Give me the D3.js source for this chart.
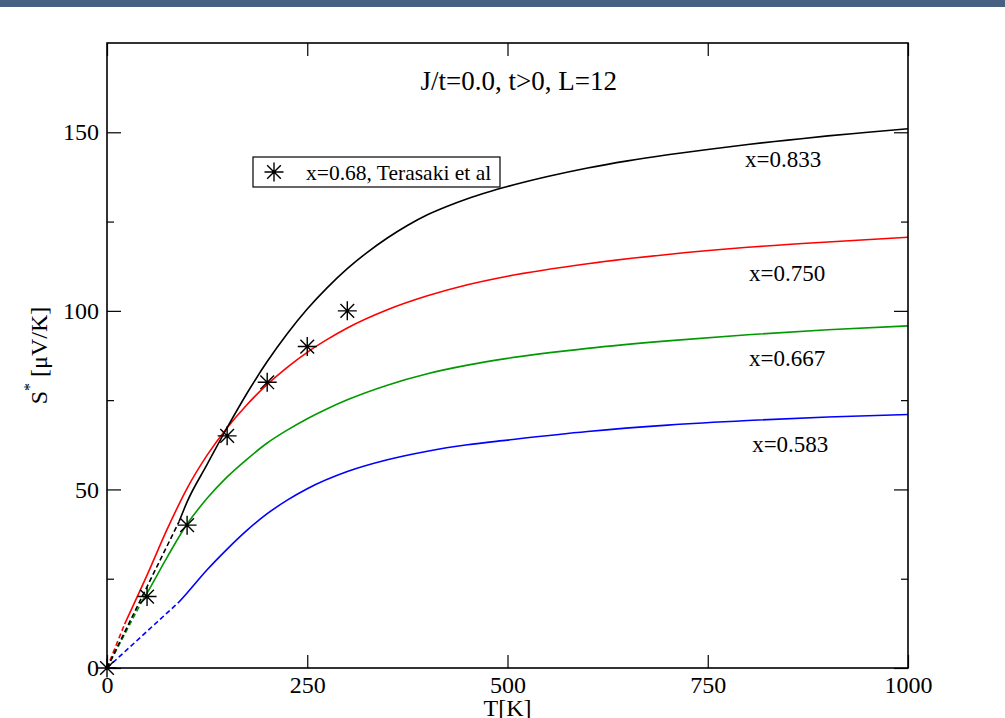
<!DOCTYPE html>
<html><head><meta charset="utf-8">
<script src="https://cdn.jsdelivr.net/npm/d3@7"></script>
<style>
body{margin:0;background:#fff;}
svg{display:block;font-family:"Liberation Serif","Times New Roman",serif;}
</style>
</head><body>
<svg id="chart" width="1005" height="718"></svg>
<script>
// ---------------- data ----------------
const xTicks = [0, 250, 500, 750, 1000];
const yTicks = [0, 50, 100, 150];
const yMinorTicks = [25, 75, 125];

const seriesLabels = ["x=0.833", "x=0.750", "x=0.667", "x=0.583"];
const seriesColors = ["#000000", "#ff0000", "#009900", "#0000ff"];

// low-temperature (dashed) parts
const blackDashT = [0, 90];
const blackDashS = [0, 41];
const redDashT = [0, 22];
const redDashS = [0, 12.3];
const greenDashT = [0, 42];
const greenDashS = [0, 18];
const blueDashT = [0, 90];
const blueDashS = [0, 18.5];

// solid parts
const blackT = [90, 100, 125, 150, 175, 200, 225, 250, 275, 300, 325, 350, 375, 400, 425, 450, 475, 500, 550, 600, 650, 700, 750, 800, 850, 900, 950, 1000];
const blackS = [41, 46.5, 57, 67.3, 77, 85.8, 93.6, 100.5, 106.5, 111.8, 116.4, 120.4, 123.9, 126.9, 129.3, 131.4, 133.2, 134.8, 137.6, 140, 142, 143.7, 145.2, 146.6, 147.8, 149, 150, 151];
const redT = [22, 50, 75, 100, 125, 150, 175, 200, 225, 250, 275, 300, 350, 400, 450, 500, 600, 700, 800, 900, 1000];
const redS = [12.3, 26, 38.8, 50.3, 59.6, 67.3, 73.8, 79.4, 84.2, 88.4, 92, 95.2, 100.3, 104.2, 107.3, 109.7, 113.2, 115.8, 117.8, 119.3, 120.6];
const greenT = [42, 50, 75, 100, 125, 150, 175, 200, 225, 250, 275, 300, 350, 400, 450, 500, 600, 700, 800, 900, 1000];
const greenS = [18, 21, 31, 40.3, 47.5, 53.5, 58.5, 63, 66.6, 69.8, 72.6, 75.1, 79.2, 82.4, 84.8, 86.7, 89.5, 91.6, 93.3, 94.7, 95.8];
const blueT = [90, 100, 125, 150, 175, 200, 225, 250, 300, 350, 400, 450, 500, 600, 700, 800, 900, 1000];
const blueS = [18.5, 21, 27.5, 33.3, 38.6, 43.2, 47, 50.2, 55, 58.3, 60.7, 62.5, 63.8, 66.2, 68, 69.3, 70.3, 71];

// experiment (Terasaki et al, x=0.68)
const expT = [0, 50, 100, 150, 200, 250, 300];
const expS = [0, 20, 40, 65, 80, 90, 100];
const expLabel = "x=0.68, Terasaki et al";

// curve label anchors (data coords)
const labelT = [844, 849, 849, 853];
const labelS = [140.2, 108.4, 84.6, 60.4];

const titleText = "J/t=0.0, t>0, L=12";

// ---------------- drawing ----------------
const svg = d3.select("#chart");
const W = 1005, H = 718;
const L = 107, R = 908, T = 43, B = 668;

svg.append("rect").attr("x", 0).attr("y", 0).attr("width", W).attr("height", H).attr("fill", "#fff");
svg.append("rect").attr("x", 0).attr("y", 0).attr("width", W).attr("height", 7).attr("fill", "#466082");

const x = d3.scaleLinear().domain([0, 1000]).range([L, R]);
const y = d3.scaleLinear().domain([0, 175]).range([B, T]);

const zip = (a, b) => a.map((v, i) => [v, b[i]]);
const line = d3.line().x(d => x(d[0])).y(d => y(d[1])).curve(d3.curveMonotoneX);

const dashSets = [zip(blackDashT, blackDashS), zip(redDashT, redDashS), zip(greenDashT, greenDashS), zip(blueDashT, blueDashS)];
const solidSets = [zip(blackT, blackS), zip(redT, redS), zip(greenT, greenS), zip(blueT, blueS)];

const gLines = svg.append("g");
[3, 2, 1, 0].forEach(i => {
  gLines.append("path").attr("d", line(dashSets[i])).attr("fill", "none")
    .attr("stroke", seriesColors[i]).attr("stroke-width", 1.6).attr("stroke-dasharray", "5,3");
  gLines.append("path").attr("d", line(solidSets[i])).attr("fill", "none")
    .attr("stroke", seriesColors[i]).attr("stroke-width", 1.6);
});

// star symbol
function star(g, cx, cy, r) {
  const d = r * 0.72;
  const p = `M${cx - r},${cy}L${cx + r},${cy}M${cx},${cy - r}L${cx},${cy + r}` +
            `M${cx - d},${cy - d}L${cx + d},${cy + d}M${cx - d},${cy + d}L${cx + d},${cy - d}`;
  g.append("path").attr("d", p).attr("stroke", "#000").attr("stroke-width", 1.4).attr("fill", "none");
}
const gPts = svg.append("g");
zip(expT, expS).forEach(d => star(gPts, x(d[0]), y(d[1]), 9.5));

// axes (inward ticks)
function styleAxis(g) {
  g.select(".domain").remove();
  g.selectAll(".tick line").attr("stroke", "#000").attr("stroke-width", 1.2);
  g.selectAll(".tick text").attr("font-family", "'Liberation Serif', serif").attr("font-size", 24).attr("fill", "#000");
}
svg.append("g").attr("transform", `translate(0,${B})`)
  .call(d3.axisBottom(x).tickValues(xTicks).tickSizeInner(-13).tickSizeOuter(0).tickPadding(8).tickFormat(d3.format("d")))
  .call(styleAxis);
svg.append("g").attr("transform", `translate(0,${T})`)
  .call(d3.axisTop(x).tickValues(xTicks).tickSizeInner(-13).tickSizeOuter(0).tickFormat(""))
  .call(styleAxis);
svg.append("g").attr("transform", `translate(${L},0)`)
  .call(d3.axisLeft(y).tickValues(yTicks).tickSizeInner(-14).tickSizeOuter(0).tickPadding(8).tickFormat(d3.format("d")))
  .call(styleAxis);
svg.append("g").attr("transform", `translate(${L},0)`)
  .call(d3.axisLeft(y).tickValues(yMinorTicks).tickSizeInner(-7).tickSizeOuter(0).tickFormat(""))
  .call(styleAxis);
svg.append("g").attr("transform", `translate(${R},0)`)
  .call(d3.axisRight(y).tickValues(yTicks).tickSizeInner(-14).tickSizeOuter(0).tickFormat(""))
  .call(styleAxis);
svg.append("g").attr("transform", `translate(${R},0)`)
  .call(d3.axisRight(y).tickValues(yMinorTicks).tickSizeInner(-7).tickSizeOuter(0).tickFormat(""))
  .call(styleAxis);

// frame
svg.append("rect").attr("x", L).attr("y", T).attr("width", R - L).attr("height", B - T)
  .attr("fill", "none").attr("stroke", "#000").attr("stroke-width", 1.6);

// axis titles
svg.append("text").attr("x", (L + R) / 2).attr("y", 716).attr("text-anchor", "middle")
  .attr("font-size", 24).text("T[K]");
const yl = svg.append("text").attr("transform", `translate(47,${(T + B) / 2}) rotate(-90)`)
  .attr("text-anchor", "middle").attr("font-size", 24);
yl.append("tspan").text("S");
yl.append("tspan").attr("dy", -12).attr("font-size", 16).text("*");
yl.append("tspan").attr("dy", 12).text(" [μV/K]");

// title
svg.append("text").attr("x", x(514)).attr("y", y(161.8)).attr("text-anchor", "middle")
  .attr("font-size", 27).text(titleText);

// curve labels
seriesLabels.forEach((s, i) => {
  svg.append("text").attr("x", x(labelT[i])).attr("y", y(labelS[i])).attr("text-anchor", "middle")
    .attr("font-size", 23).text(s);
});

// legend
const lg = svg.append("g");
lg.append("rect").attr("x", 253).attr("y", 157).attr("width", 247).attr("height", 30)
  .attr("fill", "#fff").attr("stroke", "#000").attr("stroke-width", 1.2);
star(lg, 274, 172, 9.5);
lg.append("text").attr("x", 306).attr("y", 179.5).attr("font-size", 21.5).text(expLabel);
</script>
</body></html>
